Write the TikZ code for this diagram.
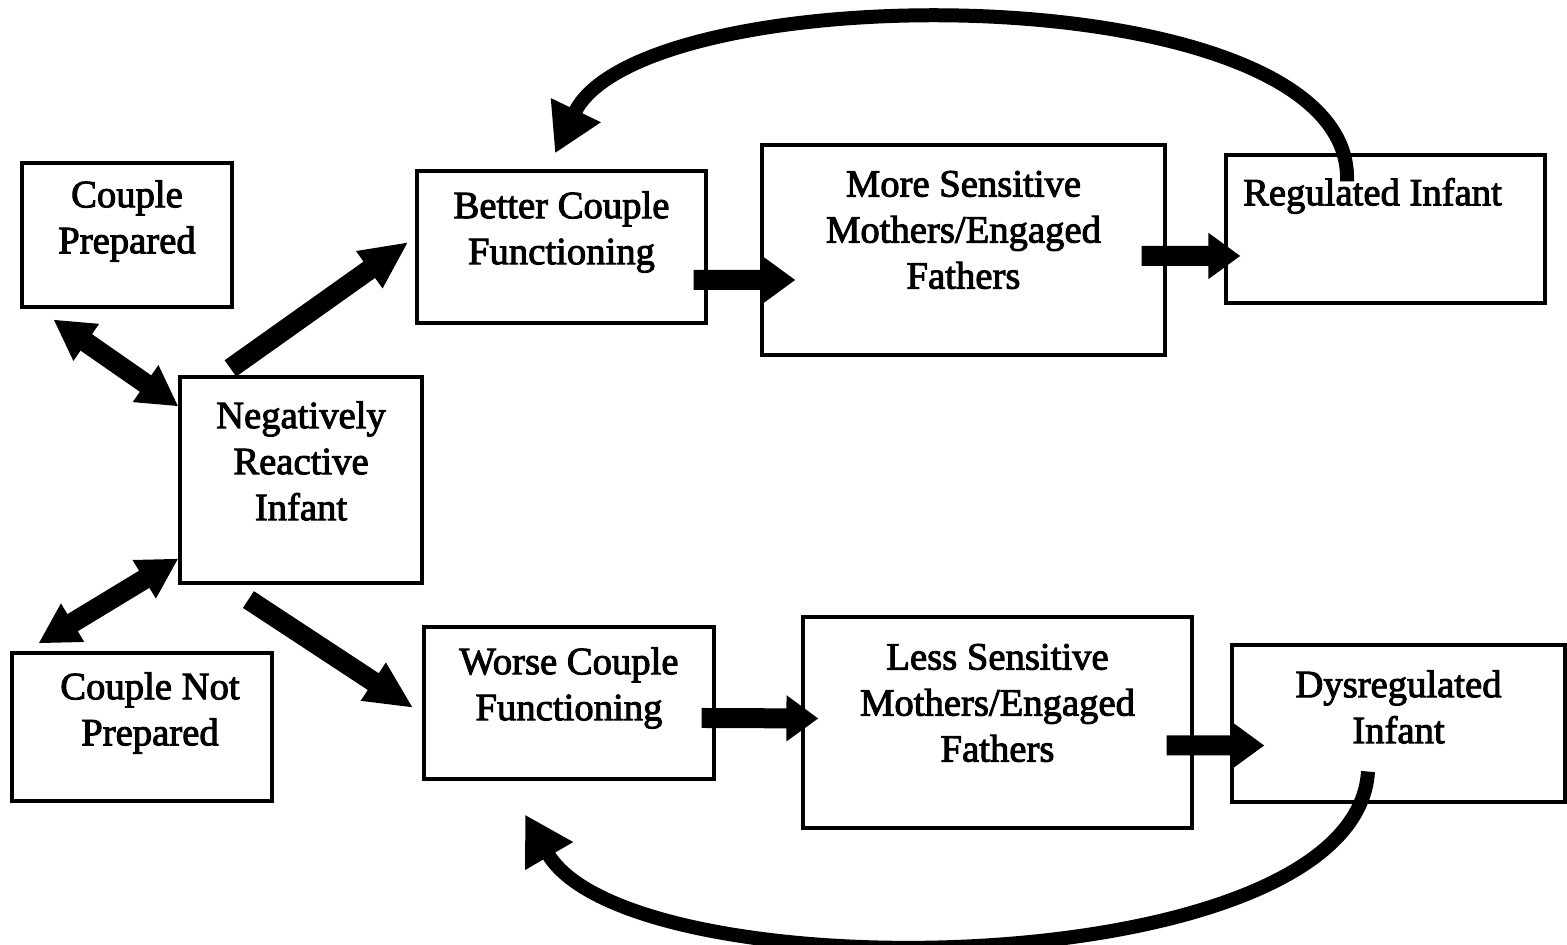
\documentclass[tikz,border=0pt]{standalone}
\usepackage{fontspec}
\setmainfont{Liberation Serif}
\newfontfamily\boxfont{Liberation Serif}[FakeBold=2.5]
\usetikzlibrary{arrows.meta}

\tikzset{
  frame/.style={draw, line width=0.9pt, inner sep=0pt},
  txt/.style={align=center, inner sep=0pt, font=\boxfont\fontsize{11}{13.1}\selectfont},
  flow/.style={line width=2mm, -{Triangle[length=3.2mm,width=4.4mm]}},
  slant/.style={line width=2mm, -{Triangle[length=4.8mm,width=4.2mm]}},
  both/.style={line width=2mm, {Triangle[length=4mm,width=4.2mm]}-{Triangle[length=4mm,width=4.2mm]}},
  loop/.style={line width=1.4mm, -{Triangle[length=4.8mm,width=5.2mm]}}
}

\begin{document}
\begin{tikzpicture}
\useasboundingbox (0,0) rectangle (15.67,9.45);

% boxes
\node[frame, minimum width=2.10cm, minimum height=1.44cm] (cp) at (1.27,7.10) {};
\node[txt] (cp-t) at ([yshift=1.4mm]cp) {Couple\\Prepared};

\node[frame, minimum width=2.42cm, minimum height=2.06cm] (nri) at (3.01,4.65) {};
\node[txt] (nri-t) at ([yshift=1.9mm]nri) {Negatively\\Reactive\\Infant};

\node[frame, minimum width=2.60cm, minimum height=1.48cm] (cnp) at (1.42,2.18) {};
\node[txt] (cnp-t) at ([xshift=0.8mm,yshift=1.4mm]cnp) {Couple Not\\Prepared};

\node[frame, minimum width=2.89cm, minimum height=1.52cm] (bcf) at (5.615,6.98) {};
\node[txt] (bcf-t) at ([yshift=1.5mm]bcf) {Better Couple\\Functioning};

\node[frame, minimum width=4.03cm, minimum height=2.10cm] (msm) at (9.635,6.95) {};
\node[txt] (msm-t) at ([yshift=2mm]msm) {More Sensitive\\Mothers/Engaged\\Fathers};

\node[frame, minimum width=3.19cm, minimum height=1.48cm] (reg) at (13.855,7.16) {};
\node[txt, anchor=north] (reg-t) at ([xshift=-1.3mm,yshift=-2.4mm]reg.north) {Regulated Infant};

\node[frame, minimum width=2.90cm, minimum height=1.52cm] (wcf) at (5.69,2.42) {};
\node[txt] (wcf-t) at ([yshift=1.5mm]wcf) {Worse Couple\\Functioning};

\node[frame, minimum width=3.89cm, minimum height=2.11cm] (lsm) at (9.975,2.225) {};
\node[txt] (lsm-t) at ([yshift=1.95mm]lsm) {Less Sensitive\\Mothers/Engaged\\Fathers};

\node[frame, minimum width=3.33cm, minimum height=1.57cm] (dys) at (13.985,2.215) {};
\node[txt] (dys-t) at ([yshift=1.65mm]dys) {Dysregulated\\Infant};

% left side
\draw[both] ([xshift=3.3mm,yshift=-1.1mm]cp.south west) -- ([yshift=-3.1mm]nri.north west);
\draw[both] ([xshift=2.8mm,yshift=0.8mm]cnp.north west) -- ([yshift=2.6mm]nri.south west);
\draw[slant] ([xshift=5.2mm,yshift=0.7mm]nri.north west) -- ([xshift=-0.7mm,yshift=0.5mm]bcf.west);
\draw[slant] ([xshift=7mm,yshift=-1.5mm]nri.south west) -- ([xshift=-0.9mm,yshift=-0.5mm]wcf.west);

% chains
\draw[flow] ([xshift=-1.4mm,yshift=-3.3mm]bcf.east) -- ([xshift=3.5mm,yshift=-3mm]msm.west);
\draw[flow] ([xshift=-2.5mm,yshift=-0.6mm]msm.east) -- ([xshift=1.6mm,yshift=-2.7mm]reg.west);
\draw[flow] ([xshift=-1.4mm,yshift=-1.5mm]wcf.east) -- ([xshift=1.7mm,yshift=0.4mm]lsm.west);
\draw[flow] ([xshift=-2.7mm,yshift=-2.3mm]lsm.east) -- ([xshift=3.4mm,yshift=-2.2mm]dys.west);

% feedback
\draw[loop] ([xshift=-3.85mm,yshift=-2.8mm]reg.north) .. controls (13.55,9.72) and (6.42,9.72) .. ([xshift=-0.65mm,yshift=1.6mm]bcf.north);
\draw[loop] ([xshift=-3.05mm,yshift=3.2mm]dys.south) .. controls (13.55,-0.4) and (6.3,-0.5) .. ([xshift=-4.4mm,yshift=-3.4mm]wcf.south);
\end{tikzpicture}
\end{document}
